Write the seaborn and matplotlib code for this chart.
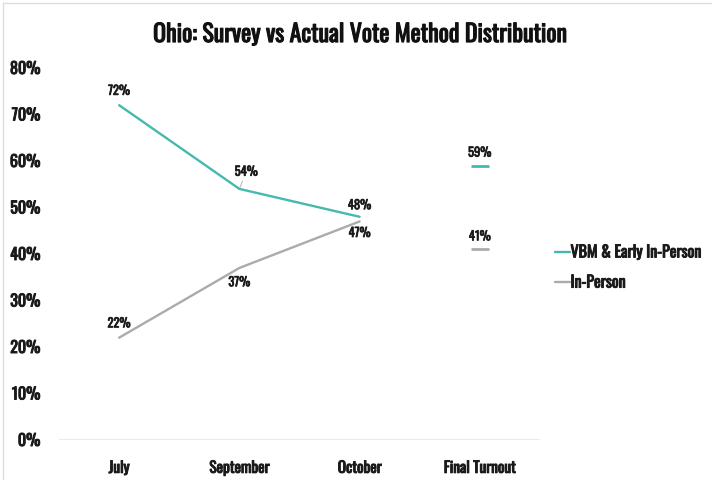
import matplotlib
matplotlib.use("Agg")
import matplotlib.pyplot as plt
import matplotlib.patheffects as pe
from matplotlib.lines import Line2D
from matplotlib import font_manager
import seaborn as sns
import pandas as pd

# --- data -----------------------------------------------------------------
categories = ["July", "September", "October", "Final Turnout"]
survey_months = ["July", "September", "October"]
vbm_survey = [72, 54, 48]
inperson_survey = [22, 37, 47]
vbm_final = 59
inperson_final = 41
series_names = ["VBM & Early In-Person", "In-Person"]
y_ticks = [0, 10, 20, 30, 40, 50, 60, 70, 80]

TEAL = "#45b9b0"
GRAY = "#ababab"
TXT = "#1a1a1a"

sns.set_theme(style="white")
names = {f.name for f in font_manager.fontManager.ttflist}
FONT = next((n for n in ("Oswald", "Roboto Condensed", "Saira Condensed") if n in names), "DejaVu Sans")
plt.rcParams["font.family"] = [FONT, "DejaVu Sans"]

# a thin outline in the text colour gives the labels a heavier weight
heavy = [pe.withStroke(linewidth=0.7, foreground=TXT)]

survey = pd.DataFrame({
    "pos": [categories.index(m) for m in survey_months] * 2,
    "share": vbm_survey + inperson_survey,
    "method": [series_names[0]] * 3 + [series_names[1]] * 3,
})
final = pd.DataFrame({
    "pos": [categories.index("Final Turnout")] * 2,
    "share": [vbm_final, inperson_final],
    "method": series_names,
})
palette = {series_names[0]: TEAL, series_names[1]: GRAY}

fig = plt.figure(figsize=(7.12, 4.8), dpi=100)
ax = fig.add_axes([59 / 712, 40 / 480, (540 - 59) / 712, (440 - 68) / 480])

sns.lineplot(data=survey, x="pos", y="share", hue="method", palette=palette,
             linewidth=1.7, legend=False, ax=ax, sort=False)
sns.scatterplot(data=final, x="pos", y="share", hue="method", palette=palette,
                marker="_", s=170, linewidth=2, legend=False, ax=ax)

ax.set_xlim(-0.5, 3.5)
ax.set_ylim(0, 80)
ax.set_yticks(y_ticks)
ax.set_yticklabels([f"{v}%" for v in y_ticks], fontsize=11.5, color=TXT)
ax.set_xticks(range(len(categories)))
ax.set_xticklabels(categories, fontsize=11, color=TXT)
for t in ax.get_xticklabels() + ax.get_yticklabels():
    t.set_path_effects(heavy)
ax.tick_params(axis="y", pad=13.5, length=0)
ax.tick_params(axis="x", pad=15, length=0)
ax.set_xlabel("")
ax.set_ylabel("")
for s in ax.spines.values():
    s.set_visible(False)
ax.axhline(0, color="#e6e6e6", linewidth=1.2, zorder=0)

# value labels
lab_kw = dict(ha="center", fontsize=9, color=TXT, path_effects=[pe.withStroke(linewidth=0.5, foreground=TXT)])
def label(x, v, dy, va):
    ax.annotate(f"{v}%", (x, v), xytext=(0, dy), textcoords="offset points", va=va, **lab_kw)

label(0, vbm_survey[0], 6, "bottom")
label(0, inperson_survey[0], 6, "bottom")
ax.annotate(f"{vbm_survey[1]}%", (1, vbm_survey[1]), xytext=(5, 8), textcoords="offset points",
            va="bottom", arrowprops=dict(arrowstyle="-", color="#bbbbbb", lw=0.8,
                                         shrinkA=0, shrinkB=1), **lab_kw)
label(1, inperson_survey[1], -6, "top")
label(2, vbm_survey[2], 4, "bottom")
label(2, inperson_survey[2], -4, "top")
label(3, vbm_final, 5, "bottom")
label(3, inperson_final, 5, "bottom")

fig.suptitle("Ohio: Survey vs Actual Vote Method Distribution", x=0.506, y=0.952,
             fontsize=17.2, color="#111111",
             path_effects=[pe.withStroke(linewidth=0.8, foreground="#111111")])

handles = [Line2D([], [], color=TEAL, lw=1.7), Line2D([], [], color=GRAY, lw=1.7)]
leg = fig.legend(handles, series_names, loc="center left", bbox_to_anchor=(541 / 712, 1 - 268 / 480),
                 frameon=False, handlelength=0.9, handletextpad=0.05, labelspacing=0.95,
                 prop=dict(size=11.5), labelcolor=TXT)
for t in leg.get_texts():
    t.set_path_effects(heavy)

# thin frame lines along top and left edge
fig.add_artist(Line2D([3 / 712, 1], [1 - 3 / 480, 1 - 3 / 480], color="#dddddd", lw=1,
                      transform=fig.transFigure))
fig.add_artist(Line2D([3 / 712, 3 / 712], [0, 1 - 3 / 480], color="#dddddd", lw=1,
                      transform=fig.transFigure))

fig.savefig("out.png", dpi=100)
